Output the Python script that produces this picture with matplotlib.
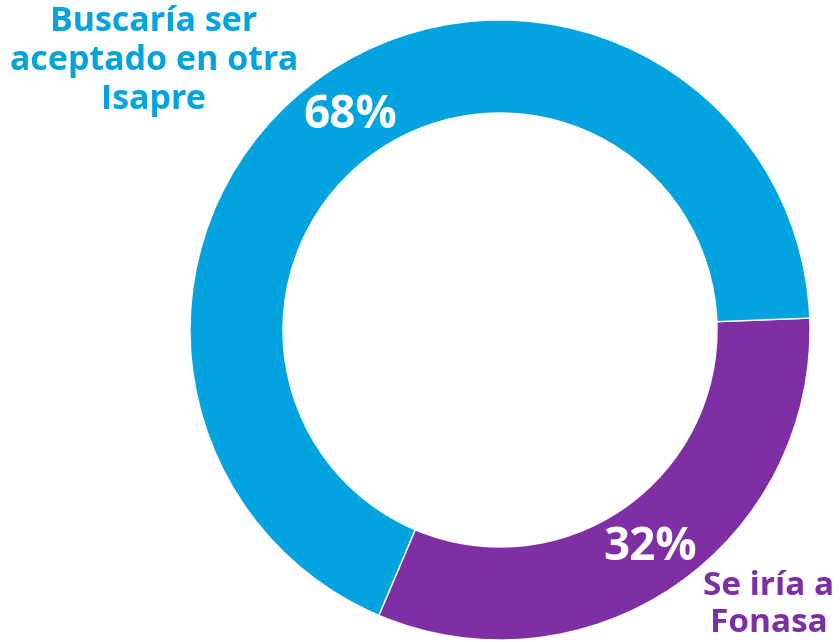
import matplotlib
matplotlib.use("Agg")
import matplotlib.pyplot as plt

labels = ["Se iría a\nFonasa", "Buscaría ser\naceptado en otra\nIsapre"]
values = [32, 68]
pct_labels = ["32%", "68%"]
colors = ["#7F2FA4", "#02A3DF"]

W, H = 840, 642
fig = plt.figure(figsize=(W / 100, H / 100), dpi=100)
ax = fig.add_axes([0, 0, 1, 1])

cx, cy, R = 500, H - 330, 310
wedges, _ = ax.pie(values, colors=colors, startangle=2.2, counterclock=False,
                   center=(cx, cy), radius=R, frame=True,
                   wedgeprops=dict(width=R - 217, edgecolor="white", linewidth=1.0))
ax.set_xlim(0, W)
ax.set_ylim(0, H)
ax.set_aspect("auto")
ax.axis("off")

font = "Open Sans"
ax.text(650, H - 547, pct_labels[0], color="white", fontsize=33, fontweight="bold",
        family=font, ha="center", va="center")
ax.text(350, H - 116, pct_labels[1], color="white", fontsize=33, fontweight="bold",
        family=font, ha="center", va="center")
ax.text(154, H - 61, labels[1], color=colors[1], fontsize=24.5, fontweight="bold",
        family=font, ha="center", va="center", linespacing=1.19)
ax.text(769, H - 605, labels[0], color=colors[0], fontsize=24, fontweight="bold",
        family=font, ha="center", va="center", linespacing=1.19)

fig.savefig("out.png", dpi=100)
